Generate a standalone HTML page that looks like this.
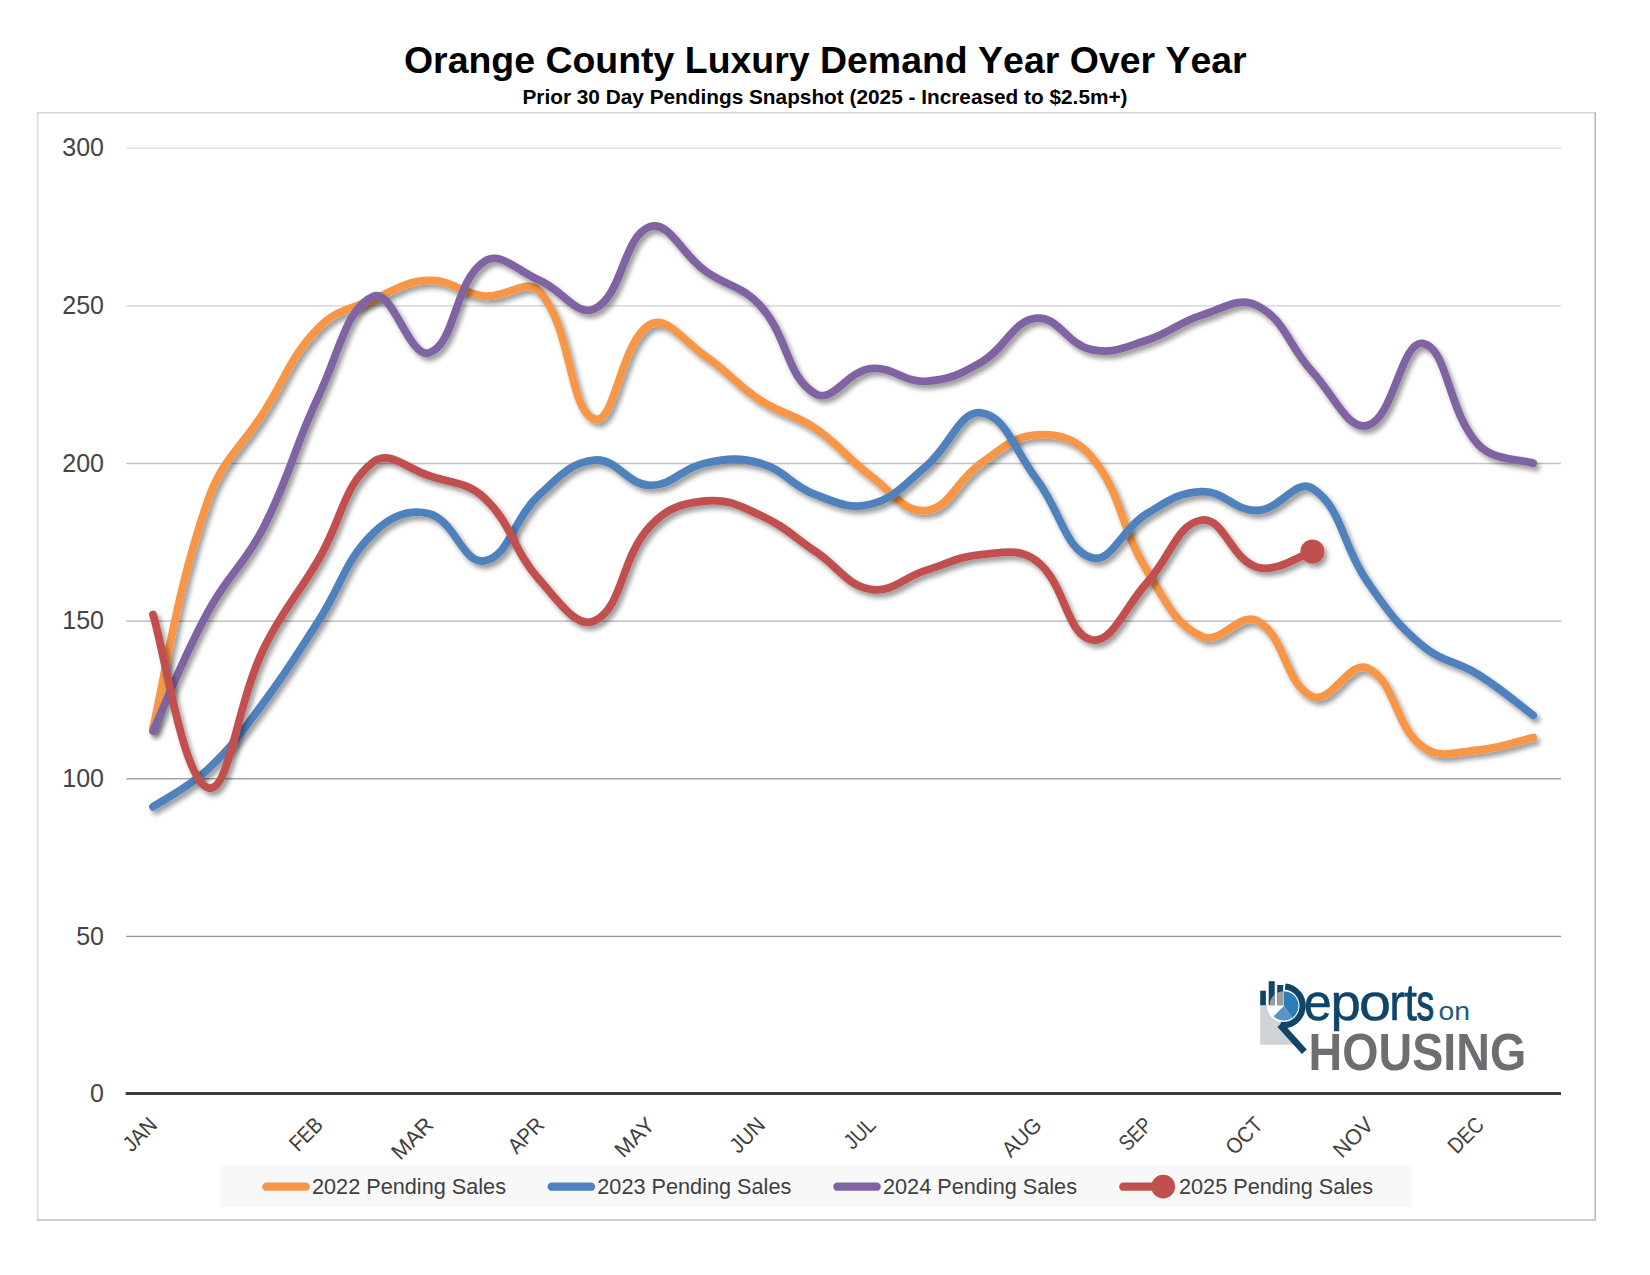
<!DOCTYPE html>
<html lang="en"><head><meta charset="utf-8"><title>Orange County Luxury Demand Year Over Year</title>
<style>
html,body{margin:0;padding:0;background:#fff;}
body{width:1650px;height:1275px;overflow:hidden;font-family:"Liberation Sans",sans-serif;}
svg{display:block;}
.t{font-family:"Liberation Sans",sans-serif;}
</style></head><body>
<svg width="1650" height="1275" viewBox="0 0 1650 1275">
<defs>
<filter id="sh" x="0" y="100" width="1650" height="1100" filterUnits="userSpaceOnUse">
<feGaussianBlur in="SourceAlpha" stdDeviation="2.9"/>
<feOffset dx="3.3" dy="3.7" result="b"/>
<feFlood flood-color="#000" flood-opacity="0.4"/>
<feComposite in2="b" operator="in"/>
<feMerge><feMergeNode/><feMergeNode in="SourceGraphic"/></feMerge>
</filter>
</defs>
<rect width="1650" height="1275" fill="#fff"/>
<text class="t" style="font-kerning:none" x="825.3" y="72.5" text-anchor="middle" font-size="37.45" font-weight="700" fill="#000">Orange County Luxury Demand Year Over Year</text>
<text class="t" x="825" y="104" text-anchor="middle" font-size="20.8" font-weight="700" fill="#000">Prior 30 Day Pendings Snapshot (2025 - Increased to $2.5m+)</text>
<rect x="37.7" y="112.7" width="1557.5" height="1107.3" fill="#fff"/>
<path d="M37.7 1220.8 V112.7" fill="none" stroke="#DCDCDC" stroke-width="1.6"/><path d="M36.9 112.7 H1596" fill="none" stroke="#D6D6D6" stroke-width="1.6"/><path d="M1595.2 112.7 V1220.8" fill="none" stroke="#BCBCBC" stroke-width="1.6"/><path d="M36.9 1220 H1596" fill="none" stroke="#BEBEBE" stroke-width="1.6"/>
<line x1="126.3" x2="1561" y1="936.4" y2="936.4" stroke="#949494" stroke-width="1.4"/>
<line x1="126.3" x2="1561" y1="778.8" y2="778.8" stroke="#A4A4A4" stroke-width="1.4"/>
<line x1="126.3" x2="1561" y1="621.1" y2="621.1" stroke="#B3B3B3" stroke-width="1.4"/>
<line x1="126.3" x2="1561" y1="463.5" y2="463.5" stroke="#C3C3C3" stroke-width="1.4"/>
<line x1="126.3" x2="1561" y1="305.9" y2="305.9" stroke="#D1D1D1" stroke-width="1.4"/>
<line x1="126.3" x2="1561" y1="148.3" y2="148.3" stroke="#DEDEDE" stroke-width="1.4"/>
<text class="t" x="104" y="1102.1" text-anchor="end" font-size="25" fill="#444">0</text>
<text class="t" x="104" y="944.5" text-anchor="end" font-size="25" fill="#444">50</text>
<text class="t" x="104" y="786.9" text-anchor="end" font-size="25" fill="#444">100</text>
<text class="t" x="104" y="629.2" text-anchor="end" font-size="25" fill="#444">150</text>
<text class="t" x="104" y="471.6" text-anchor="end" font-size="25" fill="#444">200</text>
<text class="t" x="104" y="314.0" text-anchor="end" font-size="25" fill="#444">250</text>
<text class="t" x="104" y="156.4" text-anchor="end" font-size="25" fill="#444">300</text>
<g filter="url(#sh)"><path d="M153.0 728.0C164.6 680.0 175.9 591.6 208.2 499.5C222.3 459.2 240.1 449.1 263.4 412.8C286.5 376.9 289.9 357.2 318.6 327.7C336.2 309.6 349.9 309.5 373.8 299.3C396.3 289.7 405.7 281.0 429.1 280.4C452.0 279.7 460.7 293.8 484.3 296.1C507.0 298.4 526.3 276.7 539.5 291.4C572.6 328.3 568.7 411.3 594.7 419.1C615.1 425.2 620.5 341.3 649.9 324.5C666.9 314.8 683.1 341.0 705.1 356.0C729.5 372.8 735.6 384.0 760.3 400.2C782.0 414.4 794.2 413.9 815.5 428.5C840.5 445.7 846.3 457.7 870.7 475.8C892.7 492.1 904.0 513.0 925.9 510.5C950.4 507.7 956.1 480.4 981.1 463.2C1002.5 448.6 1012.7 436.2 1036.4 434.8C1059.0 433.6 1076.7 438.7 1091.6 456.9C1123.1 495.6 1119.2 525.6 1146.8 570.4C1165.6 601.0 1174.2 623.9 1202.0 636.6C1220.5 645.1 1239.6 611.3 1257.2 620.8C1286.0 636.4 1284.5 684.6 1312.4 696.5C1330.9 704.4 1349.4 659.8 1367.6 668.1C1395.8 681.0 1393.4 725.1 1422.8 746.9C1439.8 759.5 1455.1 752.1 1478.0 750.1C1501.5 748.1 1521.7 740.1 1533.2 737.5" fill="none" stroke="#F79646" stroke-width="7.8" stroke-linejoin="round" stroke-linecap="round"/></g>
<g filter="url(#sh)"><path d="M153.0 806.8C164.6 798.9 187.9 788.1 208.2 769.0C234.3 744.4 241.8 731.8 263.4 702.8C288.2 669.6 296.0 655.7 318.6 620.8C342.4 584.2 344.1 561.4 373.8 532.6C390.5 516.4 408.4 508.4 429.1 513.7C454.8 520.3 463.0 564.6 484.3 560.9C509.4 556.6 513.1 518.9 539.5 494.7C559.4 476.5 570.7 462.1 594.7 460.1C617.0 458.2 626.5 484.6 649.9 485.3C672.8 485.9 681.1 468.0 705.1 463.2C727.4 458.8 738.8 457.1 760.3 463.2C785.1 470.3 790.9 485.6 815.5 494.7C837.2 502.8 849.6 509.6 870.7 504.2C896.0 497.7 904.4 484.2 925.9 466.4C950.7 445.8 959.3 410.3 981.1 412.8C1005.7 415.6 1014.4 450.2 1036.4 479.0C1060.8 511.1 1064.8 549.4 1091.6 557.8C1111.2 564.0 1121.6 528.8 1146.8 513.7C1168.0 501.0 1178.6 492.3 1202.0 491.6C1225.0 490.9 1234.2 511.2 1257.2 510.5C1280.6 509.8 1296.0 477.8 1312.4 488.4C1342.4 507.9 1341.5 544.8 1367.6 582.1C1387.9 611.0 1396.1 623.7 1422.8 646.1C1442.5 662.5 1456.0 660.6 1478.0 674.4C1502.4 689.7 1521.7 706.8 1533.2 715.4" fill="none" stroke="#4F81BD" stroke-width="7.8" stroke-linejoin="round" stroke-linecap="round"/></g>
<g filter="url(#sh)"><path d="M153.0 731.2C164.6 706.0 181.8 659.9 208.2 611.4C228.2 574.5 244.3 565.1 263.4 527.8C290.7 474.7 292.9 450.2 318.6 396.1C339.2 352.8 346.5 306.9 373.8 296.1C392.8 288.7 409.3 359.1 429.1 352.9C455.7 344.5 454.3 281.2 484.3 261.5C500.6 250.7 517.0 270.8 539.5 280.4C563.4 290.6 576.8 317.4 594.7 308.8C623.2 294.9 622.9 236.1 649.9 226.8C669.2 220.2 681.0 253.7 705.1 270.9C727.4 286.8 742.5 285.7 760.3 305.6C788.8 337.4 786.2 377.1 815.5 393.9C832.6 403.6 846.7 371.4 870.7 368.6C893.1 366.1 903.1 382.6 925.9 381.3C949.5 379.9 960.2 374.3 981.1 362.3C1006.6 347.8 1011.9 321.0 1036.4 318.2C1058.3 315.7 1066.9 344.8 1091.6 349.7C1113.3 354.1 1124.5 347.3 1146.8 340.3C1170.9 332.7 1177.9 322.6 1202.0 315.1C1224.2 308.1 1238.9 296.2 1257.2 305.6C1285.3 320.0 1287.9 345.2 1312.4 371.8C1334.3 395.5 1347.3 430.6 1367.6 425.4C1393.7 418.7 1401.4 339.8 1422.8 343.4C1447.8 347.7 1447.3 410.9 1478.0 444.3C1493.7 461.2 1521.7 459.2 1533.2 463.2" fill="none" stroke="#8064A2" stroke-width="7.8" stroke-linejoin="round" stroke-linecap="round"/></g>
<g filter="url(#sh)"><path d="M153.0 614.5C164.6 650.9 182.7 779.9 208.2 787.9C229.1 794.5 236.2 705.5 263.4 649.2C282.6 609.5 296.2 597.5 318.6 559.4C342.5 518.8 343.1 484.9 373.8 461.6C389.5 449.8 406.4 468.4 429.1 475.8C452.7 483.6 466.8 481.5 484.3 497.9C513.2 525.2 512.1 549.4 539.5 579.9C558.5 601.0 576.8 629.5 594.7 620.8C623.2 607.0 620.1 558.6 649.9 526.3C666.4 508.3 681.2 503.4 705.1 501.0C727.6 498.8 738.8 505.4 760.3 515.2C785.2 526.6 792.5 536.0 815.5 551.5C838.9 567.1 846.0 585.1 870.7 589.3C892.3 593.0 902.6 577.7 925.9 570.4C948.9 563.2 957.6 556.7 981.1 554.6C1004.0 552.7 1019.4 547.9 1036.4 560.9C1065.8 583.6 1066.1 634.7 1091.6 639.8C1112.5 643.9 1124.3 607.5 1146.8 583.0C1170.6 557.1 1177.2 523.5 1202.0 520.0C1223.5 516.9 1231.3 559.9 1257.2 567.2C1277.7 573.1 1300.8 554.8 1312.4 551.5" fill="none" stroke="#C0504D" stroke-width="7.8" stroke-linejoin="round" stroke-linecap="round"/><circle cx="1312.4" cy="551.5" r="12" fill="#C0504D"/></g>
<line x1="125.7" x2="1561" y1="1093.6" y2="1093.6" stroke="#3C3C3C" stroke-width="3"/>
<text class="t" transform="translate(158.5,1126.3) rotate(-45)" text-anchor="end" font-size="22" fill="#404040" textLength="37.9" lengthAdjust="spacingAndGlyphs">JAN</text>
<text class="t" transform="translate(324.3,1126.3) rotate(-45)" text-anchor="end" font-size="22" fill="#404040" textLength="37.0" lengthAdjust="spacingAndGlyphs">FEB</text>
<text class="t" transform="translate(434.9,1126.3) rotate(-45)" text-anchor="end" font-size="22" fill="#404040" textLength="49.1" lengthAdjust="spacingAndGlyphs">MAR</text>
<text class="t" transform="translate(545.5,1126.3) rotate(-45)" text-anchor="end" font-size="22" fill="#404040" textLength="40.7" lengthAdjust="spacingAndGlyphs">APR</text>
<text class="t" transform="translate(656.0,1126.3) rotate(-45)" text-anchor="end" font-size="22" fill="#404040" textLength="45.9" lengthAdjust="spacingAndGlyphs">MAY</text>
<text class="t" transform="translate(766.6,1126.3) rotate(-45)" text-anchor="end" font-size="22" fill="#404040" textLength="39.9" lengthAdjust="spacingAndGlyphs">JUN</text>
<text class="t" transform="translate(877.1,1126.3) rotate(-45)" text-anchor="end" font-size="22" fill="#404040" textLength="34.3" lengthAdjust="spacingAndGlyphs">JUL</text>
<text class="t" transform="translate(1043.0,1126.3) rotate(-45)" text-anchor="end" font-size="22" fill="#404040" textLength="45.6" lengthAdjust="spacingAndGlyphs">AUG</text>
<text class="t" transform="translate(1153.5,1126.3) rotate(-45)" text-anchor="end" font-size="22" fill="#404040" textLength="36.4" lengthAdjust="spacingAndGlyphs">SEP</text>
<text class="t" transform="translate(1264.1,1126.3) rotate(-45)" text-anchor="end" font-size="22" fill="#404040" textLength="41.9" lengthAdjust="spacingAndGlyphs">OCT</text>
<text class="t" transform="translate(1374.7,1126.3) rotate(-45)" text-anchor="end" font-size="22" fill="#404040" textLength="46.2" lengthAdjust="spacingAndGlyphs">NOV</text>
<text class="t" transform="translate(1485.2,1126.3) rotate(-45)" text-anchor="end" font-size="22" fill="#404040" textLength="40.4" lengthAdjust="spacingAndGlyphs">DEC</text>
<rect x="220.3" y="1165.9" width="1192" height="41.2" fill="#F8F8F8"/>
<line x1="266.4" x2="305.7" y1="1186.7" y2="1186.7" stroke="#F79646" stroke-width="8.3" stroke-linecap="round"/><text class="t" x="312.0" y="1193.8" font-size="22" fill="#404040" textLength="194" lengthAdjust="spacingAndGlyphs">2022 Pending Sales</text>
<line x1="551.7" x2="591.0" y1="1186.7" y2="1186.7" stroke="#4F81BD" stroke-width="8.3" stroke-linecap="round"/><text class="t" x="597.3" y="1193.8" font-size="22" fill="#404040" textLength="194" lengthAdjust="spacingAndGlyphs">2023 Pending Sales</text>
<line x1="837.4" x2="876.7" y1="1186.7" y2="1186.7" stroke="#8064A2" stroke-width="8.3" stroke-linecap="round"/><text class="t" x="883.0" y="1193.8" font-size="22" fill="#404040" textLength="194" lengthAdjust="spacingAndGlyphs">2024 Pending Sales</text>
<line x1="1123.3" x2="1163.0" y1="1186.7" y2="1186.7" stroke="#C0504D" stroke-width="8.3" stroke-linecap="round"/><circle cx="1163.2" cy="1186.7" r="11.9" fill="#C0504D"/><text class="t" x="1179.0" y="1193.8" font-size="22" fill="#404040" textLength="194" lengthAdjust="spacingAndGlyphs">2025 Pending Sales</text>
<g id="logo">
<path d="M1260.2 1005 H1286 V1024 L1298.5 1044.7 H1260.2 Z" fill="#D1D2D4"/>
<circle cx="1283.9" cy="1005.9" r="16.8" fill="#fff"/>
<rect x="1260.2" y="990.7" width="5.7" height="14.5" fill="#0F4569"/>
<rect x="1268.7" y="981.2" width="6" height="24" fill="#0F4569"/>
<rect x="1277.2" y="985" width="6" height="20.2" fill="#0F4569"/>
<clipPath id="lens"><circle cx="1283.9" cy="1005.9" r="14.6"/></clipPath>
<g clip-path="url(#lens)">
<rect x="1268.7" y="981.2" width="6" height="24" fill="#9C9DA1"/>
<rect x="1277.2" y="985" width="6" height="20.2" fill="#9C9DA1"/>
</g>
<path d="M1283.9 1005.9 L1283.9 991.3 A14.6 14.6 0 0 1 1292.3 1017.9 Z" fill="#2E7EB6"/>
<path d="M1283.9 1005.9 L1292.3 1017.9 A14.6 14.6 0 0 1 1273.6 1016.2 Z" fill="#5B93C8"/>
<path d="M1285.2 986.6 A19.3 19.3 0 1 1 1280.5 1024.9" fill="none" stroke="#0F4569" stroke-width="6.2"/>
<path d="M1282.2 1022.2 L1306.8 1049.6 L1301.9 1054 L1277.5 1027 Z" fill="#0F4569"/>
<text class="t" y="1020" font-size="52.5" fill="#0F4569" stroke="#0F4569" stroke-width="0.5"><tspan x="1303.8" textLength="28" lengthAdjust="spacingAndGlyphs">e</tspan><tspan x="1330.6" textLength="30.3" lengthAdjust="spacingAndGlyphs">p</tspan><tspan x="1359" textLength="32" lengthAdjust="spacingAndGlyphs">o</tspan><tspan x="1389.2" textLength="15.7" lengthAdjust="spacingAndGlyphs">r</tspan><tspan x="1404.3" textLength="12.8" lengthAdjust="spacingAndGlyphs">t</tspan><tspan x="1416.5" textLength="17.6" lengthAdjust="spacingAndGlyphs" stroke-width="1.1">s</tspan></text>
<text class="t" x="1438.5" y="1020" font-size="26.5" fill="#1C5B80" textLength="31.5" lengthAdjust="spacingAndGlyphs">on</text>
<text class="t" x="1308.6" y="1070.2" font-size="51.4" font-weight="700" fill="#6D6E71" textLength="217.6" lengthAdjust="spacingAndGlyphs">HOUSING</text>
</g>
</svg>
</body></html>
